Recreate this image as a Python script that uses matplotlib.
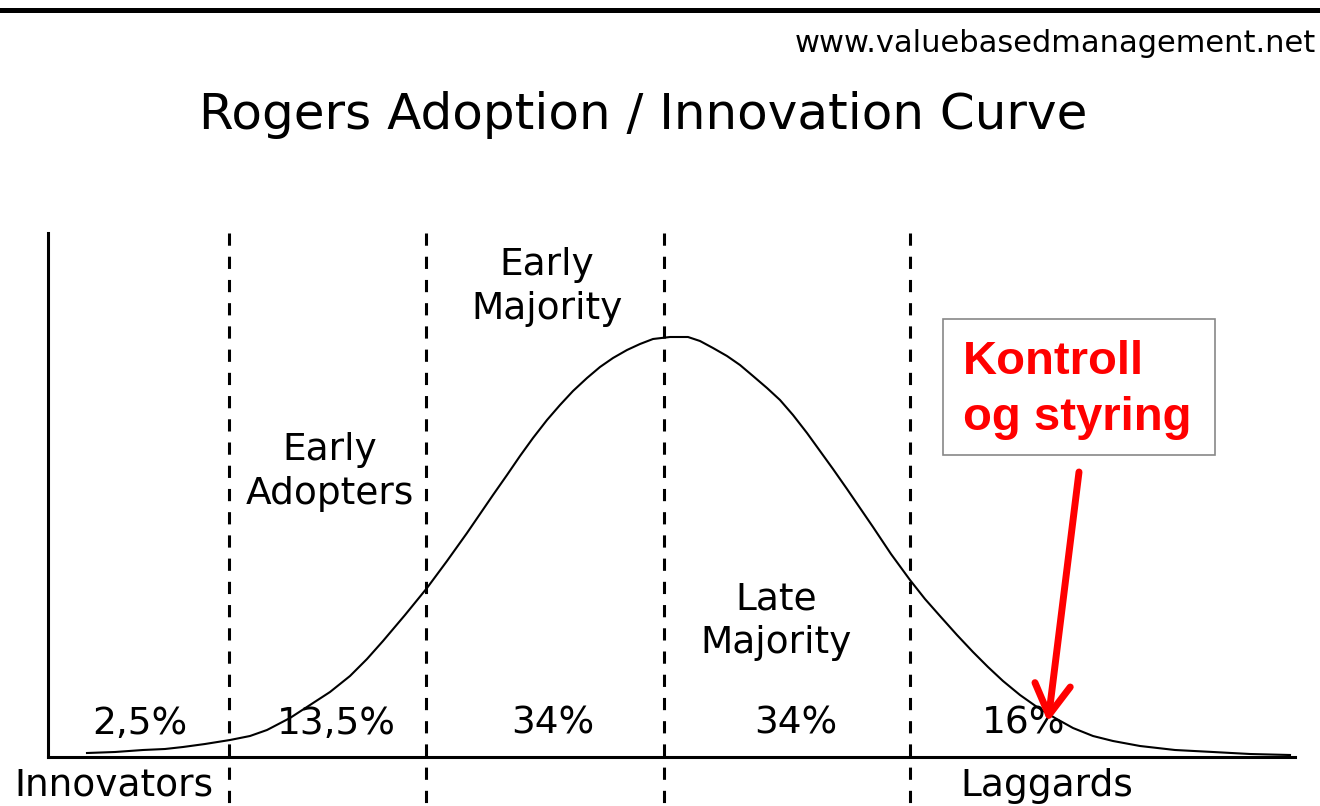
import matplotlib.pyplot as plt
from matplotlib.lines import Line2D
from matplotlib.patches import Rectangle

# curve (x along the axis, height above the baseline)
curve_x = [39, 67, 95, 117, 135, 157, 182, 202, 219, 242,
           262, 282, 302, 319, 335, 357, 379, 399, 419, 432,
           445, 459, 472, 485, 499, 512, 525, 539, 552, 565,
           579, 592, 605, 622, 640, 652, 665, 679, 692, 705,
           719, 732, 745, 759, 772, 785, 799, 812, 825, 843,
           862, 877, 892, 909, 925, 940, 955, 972, 989, 1007,
           1025, 1045, 1065, 1092, 1127, 1165, 1202, 1242]
curve_y = [4, 5, 7, 8, 10, 13, 17, 21, 27, 39,
           52, 65, 81, 98, 116, 142, 169, 196, 224, 243,
           262, 282, 301, 319, 337, 352, 366, 379, 390, 399,
           407, 413, 418, 420, 420, 416, 409, 401, 392, 381,
           369, 357, 342, 324, 306, 288, 268, 249, 230, 203,
           177, 158, 141, 122, 105, 90, 76, 62, 50, 39,
           29, 21, 16, 11, 7, 5, 3, 2]

# group borders
borders = [181, 378, 616, 862]

shares = ['2,5%', '13,5%', '34%', '34%', '16%']
share_x = [92, 288, 505, 748, 976]

groups = ['Early\nAdopters', 'Early\nMajority', 'Late\nMajority']
group_x = [282, 499, 728]
group_y = [285, 470, 136]

bottom_names = ['Innovators', 'Laggards']
bottom_x = [66, 999]

title = 'Rogers Adoption / Innovation Curve'
source = 'www.valuebasedmanagement.net'
note = 'Kontroll\nog styring'
note_box = (895, 302, 272, 136)
arrow_from = (1031, 285)
arrow_to = (1000, 35)

W, H = 1320, 806
fig = plt.figure(figsize=(W / 100, H / 100), dpi=100)
ax = fig.add_axes([48 / W, (H - 757) / H, 1247 / W, 524 / H])
ax.set_xlim(0, 1247)
ax.set_ylim(0, 524)
ax.set_xticks([])
ax.set_yticks([])
for s in ['top', 'right']:
    ax.spines[s].set_visible(False)
for s in ['left', 'bottom']:
    ax.spines[s].set_linewidth(2.2)

ax.plot(curve_x, curve_y, color='black', lw=1.5, solid_joinstyle='round')

for b in borders:
    ax.plot([b, b], [524, -49], color='black', lw=2.2,
            linestyle=(0, (4, 3.6)), clip_on=False)

lab_font = dict(fontsize=27, family='DejaVu Sans', color='black')
for t, x in zip(shares, share_x):
    ax.text(x, 33, t, ha='center', va='center', **lab_font)
for t, x, y in zip(groups, group_x, group_y):
    ax.text(x, y, t, ha='center', va='center', linespacing=1.28, **lab_font)
for t, x in zip(bottom_names, bottom_x):
    ax.text(x, -29, t, ha='center', va='center', clip_on=False, **lab_font)

bx, by, bw, bh = note_box
ax.add_patch(Rectangle((bx, by), bw, bh, facecolor='white', edgecolor='#888888', lw=1.2))
ax.text(bx + 20, by + bh / 2 - 3, note, ha='left', va='center', color='#ff0000',
        fontsize=34, family='Liberation Sans', fontweight='bold', linespacing=1.36)

ax.annotate('', xy=arrow_to, xytext=arrow_from,
            arrowprops=dict(arrowstyle='->,head_length=0.55,head_width=0.32',
                            color='#ff0000', lw=5, mutation_scale=40,
                            shrinkA=0, shrinkB=0, capstyle='round'))

fig.text(643 / W, 1 - 115 / H, title, ha='center', va='center', fontsize=36,
         family='DejaVu Sans')
fig.text(1316 / W, 1 - 44 / H, source, ha='right', va='center', fontsize=22,
         family='DejaVu Sans')
fig.add_artist(Line2D([0, 1], [1 - 9.5 / H, 1 - 9.5 / H], transform=fig.transFigure,
                      color='black', lw=3.6))

fig.savefig('out.png', dpi=100, facecolor='white')
